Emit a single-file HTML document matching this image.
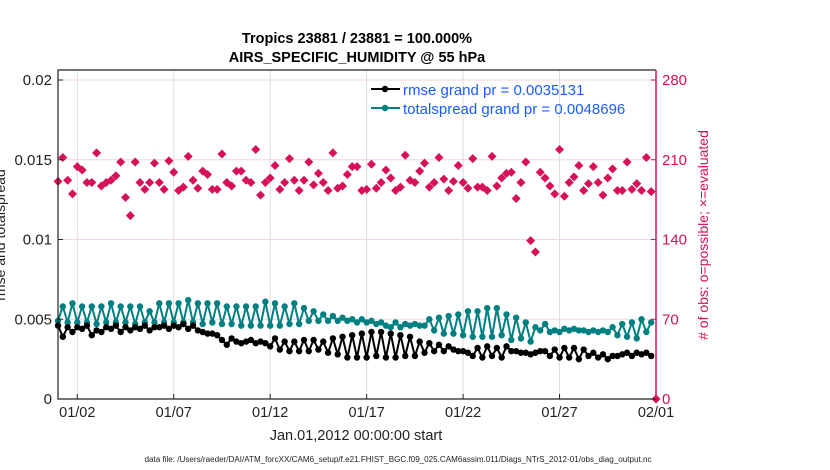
<!DOCTYPE html>
<html><head><meta charset="utf-8"><style>
body{margin:0;background:#fff;}
svg{display:block;font-family:"Liberation Sans",Arial,sans-serif;}
</style></head><body>
<svg id="chart" width="830" height="470" viewBox="0 0 830 470">
<text x="357" y="43" text-anchor="middle" font-size="14.5" font-weight="bold">Tropics 23881 / 23881 = 100.000%</text>
<text x="357" y="62" text-anchor="middle" font-size="14.5" font-weight="bold">AIRS_SPECIFIC_HUMIDITY @ 55 hPa</text>
<g id="grid"></g>
<g id="marks"></g>
<g id="axes"></g>
<text transform="translate(5,235) rotate(-90)" text-anchor="middle" font-size="14" fill="#222">rmse and totalspread</text>
<text transform="translate(708,235) rotate(-90)" text-anchor="middle" font-size="14" fill="#d6115a"># of obs: o=possible; ×=evaluated</text>
<text x="356" y="440" text-anchor="middle" font-size="14.5" fill="#222">Jan.01,2012 00:00:00 start</text>
<text x="398" y="462" text-anchor="middle" font-size="8" fill="#222" textLength="507" lengthAdjust="spacingAndGlyphs">data file: /Users/raeder/DAI/ATM_forcXX/CAM6_setup/f.e21.FHIST_BGC.f09_025.CAM6assim.011/Diags_NTrS_2012-01/obs_diag_output.nc</text>
<g id="legend">
<g>
<line x1="371" y1="89" x2="400" y2="89" stroke="#000" stroke-width="2"/><circle cx="385" cy="89" r="3.2" fill="#000"/>
<text x="403" y="95" font-size="15" fill="#1a5cff">rmse grand pr = 0.0035131</text></g>
<g>
<line x1="371" y1="108" x2="400" y2="108" stroke="#008080" stroke-width="2"/><circle cx="385" cy="108" r="3.2" fill="#008080"/>
<text x="403" y="114" font-size="15" fill="#1a5cff">totalspread grand pr = 0.0048696</text></g>
</g>
</svg>
<script>
const xTickLabels=["01/02","01/07","01/12","01/17","01/22","01/27","02/01"];
const xTickDays=[1,6,11,16,21,26,31];
const leftTicks=[0,0.005,0.01,0.015,0.02];
const leftTickLabels=["0","0.005","0.01","0.015","0.02"];
const rightTicks=[0,70,140,210,280];
const rmse=[0.0046,0.0039,0.0045,0.0042,0.0045,0.0044,0.0046,0.0040,0.0043,0.0042,0.0045,0.0044,0.0046,0.0042,0.0045,0.0043,0.0045,0.0044,0.0046,0.0043,0.0045,0.0045,0.0046,0.0044,0.0046,0.0045,0.0047,0.0044,0.0046,0.0043,0.0042,0.0041,
0.0041,0.0040,0.0037,0.0034,0.0038,0.0036,0.0035,0.0036,0.0037,0.0035,0.0036,0.0035,0.0033,0.0038,0.0031,0.0036,0.0030,0.0036,0.0030,0.0037,0.0030,0.0037,0.0031,0.0036,0.0029,0.0038,0.0028,0.0039,0.0026,0.0040,
0.0026,0.0041,0.0026,0.0042,0.0027,0.0042,0.0026,0.0041,0.0026,0.0040,0.0027,0.0039,0.0027,0.0036,0.0029,0.0035,0.0030,0.0034,0.0030,0.0033,0.0031,0.0030,0.0030,0.0029,0.0027,0.0032,0.0026,0.0033,0.0027,0.0032,0.0026,
0.0033,
0.0030,0.0030,0.0029,0.0029,0.0028,0.0029,0.0030,0.0030,0.0027,0.0031,0.0026,0.0032,0.0026,0.0032,0.0025,0.0031,0.0027,0.0029,0.0026,0.0028,0.0025,0.0027,0.0027,0.0028,0.0029,0.0027,0.0029,0.0028,0.0029,0.0027];
const totalspread=[0.0049,0.0058,0.0048,0.0060,0.0048,0.0058,0.0048,0.0058,0.0047,0.0058,0.0048,0.0060,0.0048,0.0058,0.0048,0.0058,0.0047,0.0058,0.0048,0.0055,0.0048,0.0060,0.0048,0.0060,0.0048,0.0060,0.0048,0.0062,0.0048,0.0060,0.0047,0.0060,
0.0048,0.0060,0.0047,0.0058,0.0047,0.0058,0.0046,0.0058,0.0046,0.0058,0.0046,0.0061,0.0046,0.0060,0.0046,0.0058,0.0047,0.0060,0.0047,0.0057,0.0049,0.0055,0.0049,0.0053,0.0049,0.0052,0.0049,0.0051,0.0049,0.0050,
0.0048,0.0050,0.0048,0.0049,0.0047,0.0048,0.0046,0.0045,0.0048,0.0045,0.0047,0.0046,0.0047,0.0046,0.0046,0.0050,0.0043,0.0051,0.0041,0.0052,0.0041,0.0053,0.0040,0.0055,0.0039,0.0055,0.0039,0.0057,0.0039,0.0057,0.0040,
0.0053,
0.0037,0.0051,0.0038,0.0048,0.0036,0.0045,0.0043,0.0047,0.0042,0.0043,0.0042,0.0044,0.0043,0.0044,0.0043,0.0043,0.0042,0.0043,0.0042,0.0043,0.0042,0.0045,0.0040,0.0047,0.0039,0.0048,0.0038,0.0050,0.0042,0.0048];
const obsCount=[191,212,192,180,204,201,190,190,216,187,190,192,196,208,177,161,208,190,184,190,207,190,184,209,199,183,186,213,192,185,200,197,184,184,215,190,187,200,200,192,190,219,179,190,194,205,184,190,211,192,183,192,208,188,198,190,183,216,185,187,197,204,
204,183,184,206,185,190,201,194,183,186,214,192,190,200,207,186,190,212,193,183,191,205,190,185,211,186,186,183,213,187,194,198,199,176,190,208,139,129,199,194,187,180,219,178,190,195,205,183,189,204,190,179,194,202,183,183,208,184,189,183,212,182,0];

const L=58,R=656,T=70,B=399;
const xOf=i=>L+(i*0.25)*(R-L)/31;
const xDay=d=>L+d*(R-L)/31;
const yL=v=>B-v/0.02*(B-80);
const yR=v=>B-v/280*(B-80);
const NS="http://www.w3.org/2000/svg";
function mk(tag,attrs,parent){const e=document.createElementNS(NS,tag);for(const k in attrs)e.setAttribute(k,attrs[k]);parent.appendChild(e);return e;}
const grid=document.getElementById('grid'),marks=document.getElementById('marks'),axes=document.getElementById('axes');
xTickDays.forEach((d,k)=>{
  const x=xDay(d);
  const g=mk('line',{x1:x,y1:T,x2:x,y2:B,stroke:'#dcdcdc','stroke-width':1},grid);
  
  
  const t=mk('line',{x1:x,y1:B,x2:x,y2:B-5,stroke:'#222'},axes);
  
  
  const tx=mk('text',{x:x,y:417,'text-anchor':'middle','font-size':14.5,fill:'#222'},axes);
  tx.textContent=xTickLabels[k];
  
  
});
rightTicks.forEach(v=>{
  const y=yR(v);
  if(v>0){const g=mk('line',{x1:L,y1:y,x2:R,y2:y,stroke:'#f2d3de','stroke-width':1},grid);
  
  }
  const t=mk('line',{x1:R,y1:y,x2:R-5,y2:y,stroke:'#d6115a'},axes);
  
  
  const tx=mk('text',{x:662,y:y+5,'font-size':15,fill:'#d6115a'},axes);
  tx.textContent=String(v);
  
  
});
leftTicks.forEach((v,k)=>{
  const y=yL(v);
  const t=mk('line',{x1:L,y1:y,x2:L+5,y2:y,stroke:'#222'},axes);
  
  
  const tx=mk('text',{x:52,y:y+5,'text-anchor':'end','font-size':15,fill:'#222'},axes);
  tx.textContent=leftTickLabels[k];
  
  
});
const fr=mk('path',{d:`M${R},${T} L${L},${T} L${L},${B} L${R},${B}`,fill:'none',stroke:'#222','stroke-width':1.2},axes);


const ra=mk('line',{x1:R,y1:T,x2:R,y2:B,stroke:'#d6115a','stroke-width':1.5},axes);


obsCount.forEach((v,i)=>{
  const x=xOf(i),y=yR(v),s=4.5;
  const p=mk('path',{d:`M${x},${y-s} L${x+s},${y} L${x},${y+s} L${x-s},${y} Z`,fill:'#d6115a'},marks);
  
  
});
function series(arr,color,name){
  const d=arr.map((v,i)=>(i?'L':'M')+xOf(i).toFixed(1)+','+yL(v).toFixed(1)).join(' ');
  const p=mk('path',{d:d,fill:'none',stroke:color,'stroke-width':2},marks);
  
  
  arr.forEach((v,i)=>{
    const c=mk('circle',{cx:xOf(i),cy:yL(v),r:3.2,fill:color},marks);
    
    
  });
}
series(totalspread,'#008080','totalspread');
series(rmse,'#000000','rmse');
</script>
</body></html>
